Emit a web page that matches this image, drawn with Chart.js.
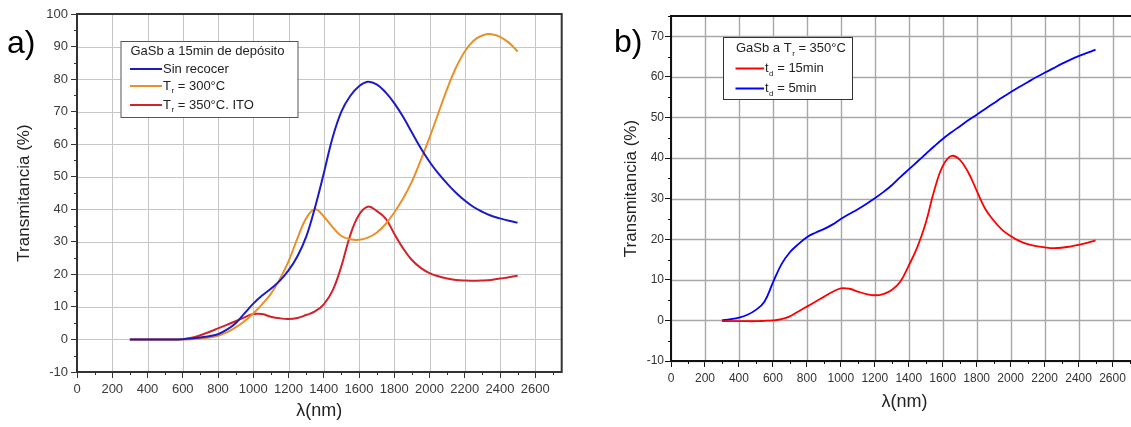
<!DOCTYPE html>
<html><head><meta charset="utf-8">
<script src="https://cdn.jsdelivr.net/npm/chart.js@4/dist/chart.umd.min.js"></script>
<style>
html,body{margin:0;padding:0;background:#fff;overflow:hidden;width:1131px;height:427px;position:relative;}
#ca{position:absolute;left:0;top:0;}
#cb{position:absolute;left:600px;top:0;}
</style></head><body>
<canvas id="ca" width="580" height="427"></canvas>
<canvas id="cb" width="545" height="427"></canvas>
<script>
// ---------- data ----------
const WAVELENGTH = [300,350,400,450,500,550,600,650,700,750,800,850,900,950,1000,1050,1100,1150,1200,1250,1300,1350,1400,1450,1500,1550,1600,1650,1700,1750,1800,1850,1900,1950,2000,2050,2100,2150,2200,2250,2300,2350,2400,2450,2500];

// panel a) GaSb a 15min de depósito
const A_SIN_RECOCER = [0,0,0,0,0,0,0.1,0.3,0.6,1.0,1.6,3.0,5.0,8.0,11.0,13.5,15.6,18.0,21.2,25.5,31.5,40.5,51.0,62.0,70.0,74.8,77.8,79.2,78.4,76.0,72.6,68.4,63.6,58.8,54.6,51.0,47.9,45.1,42.7,40.7,39.2,38.0,37.2,36.5,35.9];
const A_TR300 = [0,0,0,0,0,0,0,0.1,0.3,0.6,1.1,2.2,3.7,5.6,8.0,10.8,14.0,18.5,24.0,31.0,37.2,40.0,37.8,34.5,31.8,30.8,30.6,31.3,32.8,35.4,39.0,43.3,48.5,55.0,62.0,69.5,77.0,83.5,88.5,91.8,93.4,93.8,93.0,91.2,88.5];
const A_TR350_ITO = [0,0,0,0,0,0,0.1,0.5,1.3,2.3,3.4,4.5,5.6,6.8,7.8,7.8,7.0,6.5,6.3,6.6,7.5,8.6,10.8,15.0,22.5,32.0,38.3,40.8,39.5,37.2,32.5,28.0,24.4,22.0,20.4,19.4,18.7,18.3,18.1,18.0,18.1,18.3,18.7,19.1,19.6];

// panel b) GaSb a Tr = 350°C
const B_TD15 = [-0.2,-0.2,-0.2,-0.2,-0.2,-0.1,0,0.3,1.0,2.2,3.4,4.6,5.8,7.0,7.9,7.8,7.1,6.5,6.2,6.5,7.5,9.5,13.5,18.0,24.0,32.0,38.0,40.5,39.6,36.5,32.0,27.5,24.6,22.3,20.8,19.6,18.8,18.3,18.0,17.8,17.9,18.2,18.6,19.1,19.7];
const B_TD5 = [0,0.3,0.7,1.4,2.6,4.6,9.3,13.8,16.8,18.8,20.5,21.6,22.5,23.6,25.0,26.2,27.4,28.7,30.1,31.6,33.3,35.3,37.2,39.1,41.0,42.9,44.7,46.3,47.8,49.3,50.7,52.1,53.5,54.9,56.2,57.5,58.7,59.9,61.0,62.1,63.2,64.2,65.1,65.9,66.7];

// tick labels / texts
const X_TICKS = [0,200,400,600,800,1000,1200,1400,1600,1800,2000,2200,2400,2600];
const A_Y_TICKS = [-10,0,10,20,30,40,50,60,70,80,90,100];
const B_Y_TICKS = [-10,0,10,20,30,40,50,60,70];
const A_LABELS = ['Sin recocer','T_r = 300°C','T_r = 350°C. ITO'];
const A_LEGEND_TITLE = 'GaSb a 15min de depósito';
const B_LABELS = ['t_d = 15min','t_d = 5min'];
const B_LEGEND_TITLE = 'GaSb a T_r = 350°C';
const X_TITLE = 'λ(nm)';
const Y_TITLE = 'Transmitancia (%)';

// ---------- drawing helpers ----------
const FAMILY = "'Liberation Sans', Arial, sans-serif";
function richParts(s){
  const parts=[]; let buf='';
  for(let i=0;i<s.length;i++){
    if(s[i]==='_' && i+1<s.length){ if(buf) parts.push({t:buf}); buf=''; parts.push({t:s[i+1],sub:true}); i++; }
    else buf+=s[i];
  }
  if(buf) parts.push({t:buf});
  return parts;
}
function drawRich(ctx, s, x, y, size, color){
  ctx.fillStyle=color; ctx.textBaseline='middle'; ctx.textAlign='left';
  for(const p of richParts(s)){
    if(p.sub){ ctx.font=`${Math.round(size*0.62)}px ${FAMILY}`; ctx.fillText(p.t, x+0.5, y+size*0.38); x+=ctx.measureText(p.t).width+0.5; }
    else { ctx.font=`${size}px ${FAMILY}`; ctx.fillText(p.t, x, y); x+=ctx.measureText(p.t).width; }
  }
}

const framePlugin = {
  id:'frame',
  beforeDatasetsDraw(chart, args, o){
    const {ctx, chartArea:a, scales:{x,y}} = chart;
    ctx.save();
    ctx.strokeStyle=o.gridColor; ctx.lineWidth=o.gridWidth; ctx.beginPath();
    x.ticks.forEach(t=>{ const p=Math.round(x.getPixelForValue(t.value))+0.5; ctx.moveTo(p,a.top); ctx.lineTo(p,a.bottom); });
    y.ticks.forEach(t=>{ const p=Math.round(y.getPixelForValue(t.value))+0.5; ctx.moveTo(a.left,p); ctx.lineTo(a.right,p); });
    ctx.stroke();
    ctx.restore();
  },
  afterDraw(chart, args, o){
    const {ctx, chartArea:a, scales:{x,y}} = chart;
    ctx.save();
    // minor ticks
    ctx.strokeStyle=o.tickColor; ctx.lineWidth=1; ctx.beginPath();
    for(let v=x.min; v<=x.max; v+=o.xMinor){
      if(v%o.xMajor!==0){ const p=Math.round(x.getPixelForValue(v))+0.5; ctx.moveTo(p,a.bottom); ctx.lineTo(p,a.bottom+o.minorLen); }
    }
    for(let v=y.min; v<=y.max; v+=o.yMinor){
      if(v%o.yMajor!==0){ const p=Math.round(y.getPixelForValue(v))+0.5; ctx.moveTo(a.left,p); ctx.lineTo(a.left-o.minorLen,p); }
    }
    ctx.stroke();
    // frame
    ctx.lineWidth=o.frameWidth; ctx.strokeStyle=o.frameColor;
    ctx.strokeRect(a.left,a.top,a.right-a.left,a.bottom-a.top);
    // legend box
    const L=o.legend;
    ctx.fillStyle='#fff'; ctx.fillRect(L.x,L.y,L.w,L.h);
    ctx.lineWidth=1; ctx.strokeStyle=L.border; ctx.strokeRect(L.x+0.5,L.y+0.5,L.w,L.h);
    drawRich(ctx, L.title, L.textX0, L.titleY, L.size, L.color);
    chart.data.datasets.forEach((ds,i)=>{
      const yy=L.rowY[i];
      ctx.strokeStyle=ds.borderColor; ctx.lineWidth=L.lineWidth;
      ctx.beginPath(); ctx.moveTo(L.lineX0,yy); ctx.lineTo(L.lineX1,yy); ctx.stroke();
      drawRich(ctx, ds.label, L.lineX1+1, yy, L.size, L.color);
    });
    // panel label
    ctx.font=o.panel.font; ctx.fillStyle='#000'; ctx.textBaseline='alphabetic'; ctx.textAlign='left';
    ctx.fillText(o.panel.text, o.panel.x, o.panel.y);
    ctx.restore();
  }
};

function buildChart(id, p){
  return new Chart(document.getElementById(id), {
    type:'line',
    data:{datasets:p.series.map(s=>({
      label:s.label,
      data:WAVELENGTH.map((w,i)=>({x:w,y:s.values[i]})),
      borderColor:s.color, borderWidth:p.lineWidth, pointRadius:0, fill:false,
      tension:0.4
    }))},
    options:{
      responsive:false, animation:false, devicePixelRatio:1,
      layout:{padding:p.padding},
      plugins:{legend:{display:false}, tooltip:{enabled:false}, frame:p.frame},
      scales:{
        x:{type:'linear', min:0, max:p.xMax,
          afterBuildTicks:s=>{ s.ticks=X_TICKS.map(v=>({value:v})); },
          afterFit:s=>{ s.height=p.xHeight; },
          grid:{drawOnChartArea:false, color:p.tickColor, lineWidth:1, tickLength:6, tickColor:p.tickColor, tickWidth:1},
          border:{display:false},
          ticks:{font:{size:p.tickSize, family:FAMILY}, color:p.tickLabelColor, padding:p.xTickPad, maxRotation:0, autoSkip:false, callback:v=>String(v)},
          title:{display:true, text:X_TITLE, color:'#222', font:{size:18, family:FAMILY}, padding:{top:0,bottom:p.xTitlePad}}
        },
        y:{type:'linear', min:-10, max:p.yMax,
          afterBuildTicks:s=>{ s.ticks=p.yTicks.map(v=>({value:v})); },
          afterFit:s=>{ s.width=p.yWidth; },
          grid:{drawOnChartArea:false, color:p.tickColor, lineWidth:1, tickLength:6, tickColor:p.tickColor, tickWidth:1},
          border:{display:false},
          ticks:{font:{size:p.tickSize, family:FAMILY}, color:p.tickLabelColor, padding:p.yTickPad, autoSkip:false, callback:v=>String(v)},
          title:{display:true, text:Y_TITLE, color:'#222', font:{size:17, family:FAMILY}, padding:{top:p.yTitlePad,bottom:0}}
        }
      }
    },
    plugins:[framePlugin]
  });
}

buildChart('ca', {
  series:[
    {label:A_LABELS[0], values:A_SIN_RECOCER, color:'#1c1cc4'},
    {label:A_LABELS[1], values:A_TR300, color:'#e8902a'},
    {label:A_LABELS[2], values:A_TR350_ITO, color:'#d2222a'}
  ],
  lineWidth:2, xMax:2750, yMax:100, yTicks:A_Y_TICKS,
  padding:{left:0, top:14, right:18.3, bottom:0},
  xHeight:55, yWidth:77,
  tickColor:'#333', tickLabelColor:'#3a3a3a', tickSize:13,
  xTickPad:4, yTickPad:3, xTitlePad:5, yTitlePad:14,
  frame:{gridColor:'#c6c6c6', gridWidth:1, tickColor:'#333', xMinor:100, xMajor:200, yMinor:5, yMajor:10, minorLen:3, frameWidth:2, frameColor:'#333',
    legend:{title:A_LEGEND_TITLE, x:120.5, y:41, w:177, h:76, border:'#555', size:13, color:'#222', textX0:130.5, titleY:51.5,
      rowY:[69,86,105], lineX0:130, lineX1:162, lineWidth:2},
    panel:{text:'a)', font:`32px ${FAMILY}`, x:7, y:53}
  }
});

buildChart('cb', {
  series:[
    {label:B_LABELS[0], values:B_TD15, color:'#ff0000'},
    {label:B_LABELS[1], values:B_TD5, color:'#0000ff'}
  ],
  lineWidth:1.8, xMax:2750, yMax:75, yTicks:B_Y_TICKS,
  padding:{left:0, top:16, right:7, bottom:0},
  xHeight:66, yWidth:71,
  tickColor:'#111', tickLabelColor:'#333', tickSize:12,
  xTickPad:4, yTickPad:1, xTitlePad:14, yTitlePad:21,
  frame:{gridColor:'#a8a8a8', gridWidth:1.4, tickColor:'#111', xMinor:100, xMajor:200, yMinor:5, yMajor:10, minorLen:3, frameWidth:2, frameColor:'#111',
    legend:{title:B_LEGEND_TITLE, x:123, y:37, w:129, h:62, border:'#333', size:13, color:'#222', textX0:136, titleY:48.5,
      rowY:[68.5,88.5], lineX0:135.5, lineX1:164, lineWidth:2},
    panel:{text:'b)', font:`32px ${FAMILY}`, x:14, y:52}
  }
});
</script>
</body></html>
